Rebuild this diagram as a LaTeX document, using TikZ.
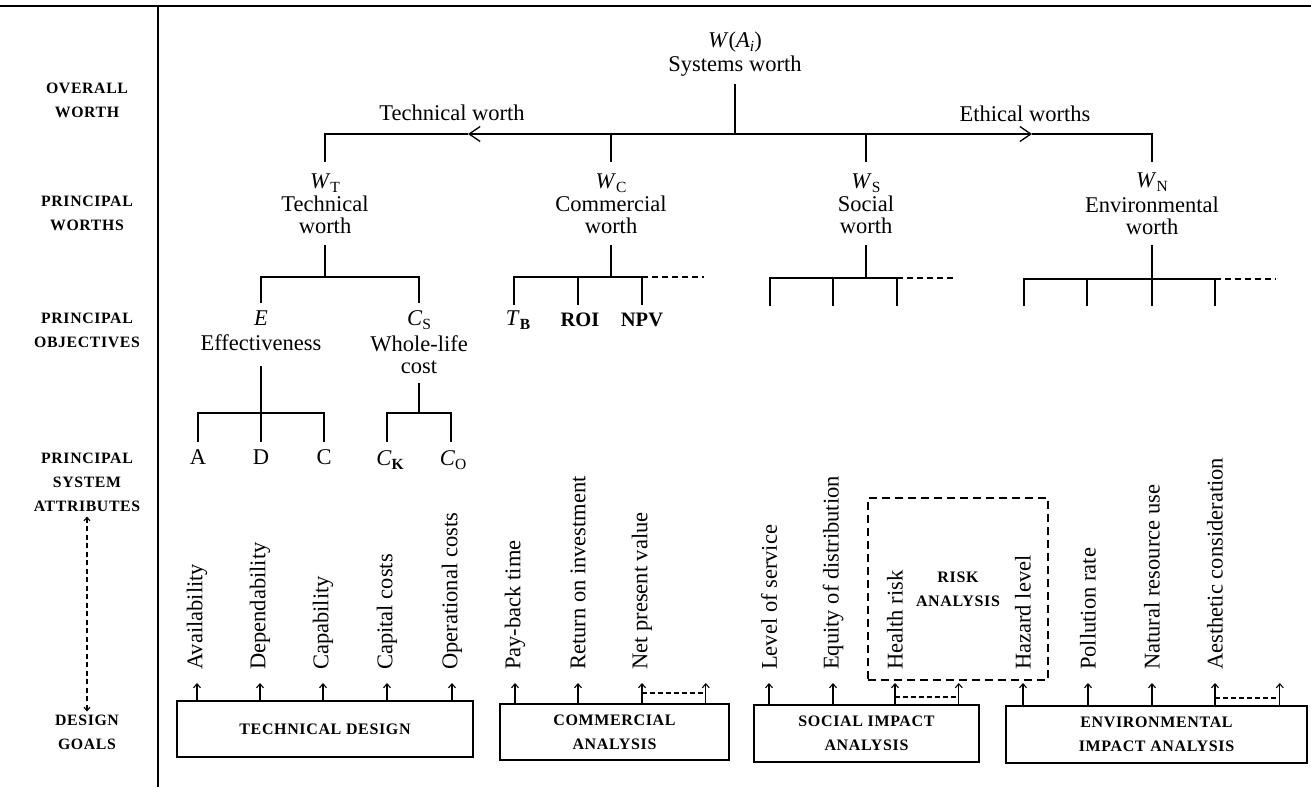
\documentclass[tikz,border=0pt]{standalone}
\usepackage{fontspec}
\setmainfont{Liberation Serif}
\newfontfamily\capsfont[LetterSpace=4]{Liberation Serif}
\usetikzlibrary{arrows.meta,calc}
\newcommand\lowsub[1]{\raisebox{-0.4ex}{\fontsize{15.5}{15.5}\selectfont\upshape #1}}
\tikzset{
  wtext/.style={font=\fontsize{22.5}{22}\selectfont, align=center, inner sep=0pt},
  sidetext/.style={font=\capsfont\bfseries\fontsize{15.8}{24}\selectfont, align=center, inner sep=0pt},
  goalbox/.style={draw, line width=1.2pt, font=\capsfont\bfseries\fontsize{16}{24}\selectfont, align=center, inner sep=0pt},
  attrtext/.style={font=\fontsize{22.5}{22}\selectfont, inner sep=0pt, rotate=90, anchor=west},
  uparr/.style={-{Straight Barb[length=4pt,width=7pt]}, line width=1.1pt},
  treeline/.style={line width=1.3pt},
  moreline/.style={line width=1.2pt, dash pattern=on 6pt off 4pt},
  bigarr/.style={-{Straight Barb[length=11pt,width=15pt,line width=1.3pt]}},
  spare/.style={inner sep=0pt, minimum size=0pt}
}
\begin{document}
\begin{tikzpicture}[x=1pt,y=-1pt]
\useasboundingbox (0,0) rectangle (1311,787);

% frame: rule along the top and column separator
\draw[line width=2.2pt] (0,6) -- (1311,6);
\draw[line width=1.3pt] (158,6) -- (158,787);

% level names
\node[sidetext] (lOW)  at (87,100) {OVERALL\\WORTH};
\node[sidetext] (lPW)  at (87,213) {PRINCIPAL\\WORTHS};
\node[sidetext] (lPO)  at (87,330) {PRINCIPAL\\OBJECTIVES};
\node[sidetext] (lPSA) at (87,482) {PRINCIPAL\\SYSTEM\\ATTRIBUTES};
\node[sidetext] (lDG)  at (87,732) {DESIGN\\GOALS};
\draw[line width=1.1pt, dash pattern=on 5pt off 3.5pt,
      {Straight Barb[length=3.5pt,width=6pt]}-{Straight Barb[length=3.5pt,width=6pt]},
      shorten <=5pt, shorten >=3pt] (lPSA.south) -- (lDG.north);

% overall worth
\node[wtext] (sysW) at (735,42) {\textit{W}(\textit{A}\lowsub{\textit{i}})};
\node[wtext] (sys)  at (735,66) {Systems worth};
\coordinate (sysfoot) at (735,84);
\coordinate (jtop) at (735,134);
\coordinate (arrL) at (468,134);
\coordinate (arrR) at (1032,134);
\coordinate (jT) at (325,134);
\coordinate (jC) at (611,134);
\coordinate (jS) at (866,134);
\coordinate (jN) at (1152,134);
\coordinate (WTtop) at (325,162);
\coordinate (WCtop) at (611,162);
\coordinate (WStop) at (866,162);
\coordinate (WNtop) at (1152,162);
\draw[treeline] (sysfoot) -- (jtop);
\draw[treeline, bigarr] (jtop) -- (arrL);
\draw[treeline] (arrL) -- (jT) -- (WTtop);
\draw[treeline, bigarr] (jtop) -- (arrR);
\draw[treeline] (arrR) -- (jN) -- (WNtop);
\draw[treeline] (jC) -- (WCtop);
\draw[treeline] (jS) -- (WStop);
\node[wtext] (twlab) at (452,113) {Technical worth};
\node[wtext] (ewlab) at (1025,114) {Ethical worths};

% principal worths
\node[wtext] (WT)  at (325,183) {\textit{W}\lowsub{T}};
\node[wtext] (WTn) at (325,215) {Technical\\worth};
\node[wtext] (WC)  at (611,183) {\textit{W}\lowsub{C}};
\node[wtext] (WCn) at (611,215) {Commercial\\worth};
\node[wtext] (WS)  at (866,183) {\textit{W}\lowsub{S}};
\node[wtext] (WSn) at (866,215) {Social\\worth};
\node[wtext] (WN)  at (1152,182) {\textit{W}\lowsub{N}};
\node[wtext] (WNn) at (1152,216) {Environmental\\worth};

% technical worth branch
\coordinate (WTfoot) at (325,245);
\coordinate (bT) at (325,277);
\draw[treeline] (WTfoot) -- (bT);
\draw[treeline] (261,303) -- (261,277) -- (419,277) -- (419,303);
\node[wtext] (E)   at (261,318) {\textit{E}};
\node[wtext] (En)  at (261,343) {Effectiveness};
\node[wtext] (CS)  at (419,320) {\textit{C}\lowsub{S}};
\node[wtext] (CSn) at (419,355) {Whole-life\\cost};
\coordinate (Efoot) at (261,366);
\coordinate (Ebar) at (261,413);
\draw[treeline] (Efoot) -- (Ebar);
\draw[treeline] (198,442) -- (198,413) -- (324,413) -- (324,442);
\draw[treeline] (Ebar) -- (261,442);
\coordinate (CSfoot) at (419,383);
\coordinate (CSbar) at (419,413);
\draw[treeline] (CSfoot) -- (CSbar);
\draw[treeline] (387,442) -- (387,413) -- (451,413) -- (451,442);
\node[wtext] (aA) at (198,457) {A};
\node[wtext] (aD) at (261,457) {D};
\node[wtext] (aC) at (324,457) {C};
\node[wtext] (CK) at (390,460) {\textit{C}\lowsub{\textbf{K}}};
\node[wtext] (CO) at (453,460) {\textit{C}\lowsub{O}};

% commercial worth branch
\draw[treeline] (611,245) -- (611,277);
\draw[treeline] (514,305) -- (514,277) -- (642,277) -- (642,305);
\draw[treeline] (578,277) -- (578,305);
\draw[moreline] (642,277) -- (704,277);
\node[wtext] (TB)  at (518,320) {\textit{T}\lowsub{\textbf{B}}};
\node[wtext, font=\bfseries\fontsize{20.5}{22}\selectfont] (ROI) at (580,320) {ROI};
\node[wtext, font=\bfseries\fontsize{20.5}{22}\selectfont] (NPV) at (642,320) {NPV};

% social worth branch
\draw[treeline] (866,245) -- (866,278);
\draw[treeline] (770,306) -- (770,278) -- (897,278) -- (897,306);
\draw[treeline] (833,278) -- (833,306);
\draw[moreline] (897,278) -- (953,278);

% environmental worth branch
\draw[treeline] (1152,245) -- (1152,306);
\draw[treeline] (1024,306) -- (1024,279) -- (1215,279) -- (1215,306);
\draw[treeline] (1087,279) -- (1087,306);
\draw[moreline] (1215,279) -- (1276,279);

% design goals
\node[goalbox, minimum width=296pt, minimum height=56pt] (tdbox) at (325,729) {TECHNICAL DESIGN};
\node[goalbox, minimum width=229pt, minimum height=56pt] (cabox) at (614.5,732) {COMMERCIAL\\ANALYSIS};
\node[goalbox, minimum width=225pt, minimum height=57pt] (sibox) at (866.5,733.5) {SOCIAL IMPACT\\ANALYSIS};
\node[goalbox, minimum width=301pt, minimum height=57pt] (eibox) at (1156.5,734.5) {ENVIRONMENTAL\\IMPACT ANALYSIS};

% risk analysis group
\node[goalbox, dash pattern=on 8pt off 5pt, minimum width=180pt, minimum height=182pt] (risk) at (958,589) {RISK\\ANALYSIS};

% system attributes fed by each design goal
\node[attrtext] (av)  at (197,670) {Availability};
\node[attrtext] (de)  at (260,670) {Dependability};
\node[attrtext] (cp)  at (323,670) {Capability};
\node[attrtext] (cc)  at (387,670) {Capital costs};
\node[attrtext] (oc)  at (452,670) {Operational costs};
\node[attrtext] (pb)  at (515,670) {Pay-back time};
\node[attrtext] (ri)  at (578,670) {Return on investment};
\node[attrtext] (np)  at (642,670) {Net present value};
\node[attrtext] (ls)  at (769,670) {Level of service};
\node[attrtext] (eq)  at (833,670) {Equity of distribution};
\node[attrtext] (hr)  at (895,670) {Health risk};
\node[attrtext] (hz)  at (1023,670) {Hazard level};
\node[attrtext] (pr)  at (1088,670) {Pollution rate};
\node[attrtext] (nr)  at (1152,670) {Natural resource use};
\node[attrtext] (ae)  at (1215,670) {Aesthetic consideration};
\node[spare] (cx) at (706,670) {};
\node[spare] (sx) at (959,670) {};
\node[spare] (ex) at (1280,670) {};

\foreach \a in {av,de,cp,cc,oc}
  \draw[uparr] (tdbox.north -| \a.west) -- ($(\a.west)+(0,13)$);
\foreach \a in {pb,ri,np,cx}
  \draw[uparr] (cabox.north -| \a.west) -- ($(\a.west)+(0,13)$);
\foreach \a in {ls,eq,hr,sx}
  \draw[uparr] (sibox.north -| \a.west) -- ($(\a.west)+(0,13)$);
\foreach \a in {hz,pr,nr,ae,ex}
  \draw[uparr] (eibox.north -| \a.west) -- ($(\a.west)+(0,13)$);

% further attributes, not listed
\draw[moreline, dash pattern=on 5pt off 3pt] ($(np.west)+(0,23)$) -- ($(cx.west)+(0,23)$);
\draw[moreline, dash pattern=on 5pt off 3pt] ($(hr.west)+(0,27)$) -- ($(sx.west)+(0,27)$);
\draw[moreline, dash pattern=on 5pt off 3pt] ($(ae.west)+(0,28)$) -- ($(ex.west)+(0,28)$);
\end{tikzpicture}
\end{document}
